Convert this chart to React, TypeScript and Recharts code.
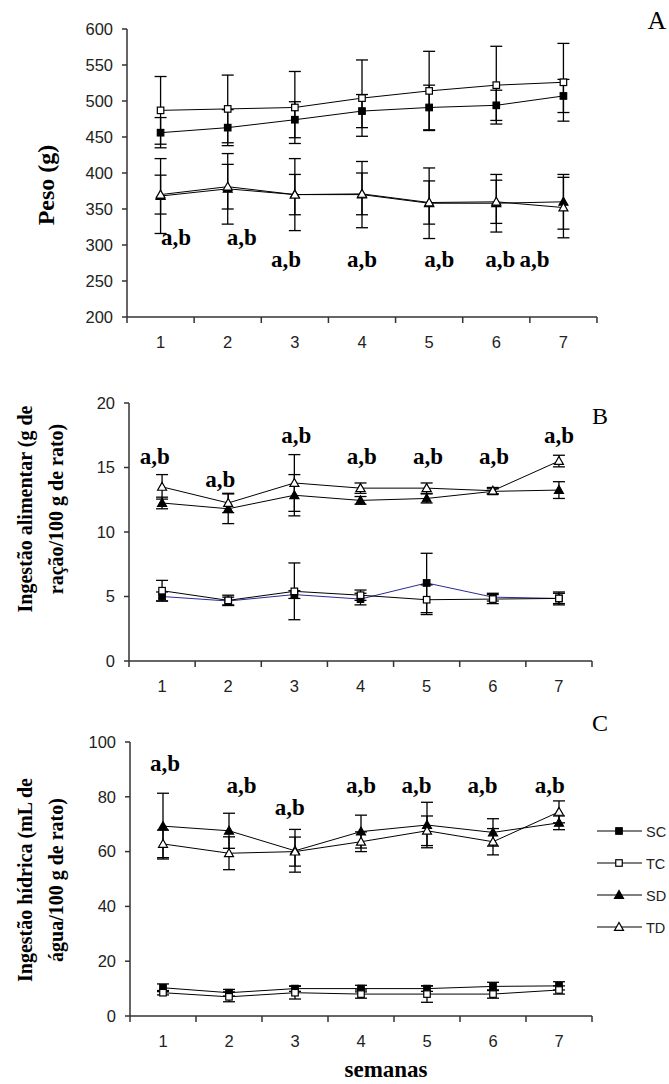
import React from 'react';
import { LineChart, Line, XAxis, YAxis, ErrorBar, ReferenceDot } from 'recharts';

// ---------- shared ----------
const weeks = [1, 2, 3, 4, 5, 6, 7];
const seriesNames = ['SC', 'TC', 'SD', 'TD'];
const annotationText = 'a,b';

// ---------- Panel A : Peso (g) ----------
const pesoSC = [456, 463, 474, 486, 491, 494, 507];
const pesoSCErr = [21, 25, 25, 23, 31, 21, 23];
const pesoTC = [487, 489, 491, 504, 514, 522, 526];
const pesoTCErr = [47, 47, 50, 53, 55, 54, 54];
const pesoSD = [368, 378, 370, 370, 358, 358, 360];
const pesoSDErr = [52, 49, 50, 46, 49, 40, 38];
const pesoTD = [370, 381, 370, 371, 359, 360, 352];
const pesoTDErr = [27, 31, 28, 29, 30, 30, 42];
const pesoTicks = [200, 250, 300, 350, 400, 450, 500, 550, 600];
const annAx = [1.23, 2.21, 2.87, 4.0, 5.15, 6.06, 6.57];
const annAy = [311, 311, 280, 280, 280, 280, 280];

// ---------- Panel B : Ingestão alimentar ----------
const aliSC = [5.0, 4.65, 5.15, 4.8, 6.05, 4.95, 4.85];
const aliSCErr = [0.35, 0.3, 0.3, 0.45, 2.3, 0.3, 0.4];
const aliTC = [5.45, 4.7, 5.4, 5.1, 4.75, 4.8, 4.85];
const aliTCErr = [0.8, 0.4, 2.2, 0.4, 1.15, 0.35, 0.5];
const aliSD = [12.25, 11.8, 12.85, 12.45, 12.6, 13.15, 13.25];
const aliSDErr = [0.45, 1.15, 1.6, 0.3, 0.35, 0.2, 0.65];
const aliTD = [13.5, 12.25, 13.8, 13.4, 13.4, 13.2, 15.5];
const aliTDErr = [0.95, 0.75, 2.2, 0.4, 0.4, 0.25, 0.45];
const aliTicks = [0, 5, 10, 15, 20];
const annBx = [0.89, 1.88, 3.03, 4.02, 5.02, 6.02, 7.0];
const annBy = [15.9, 14.15, 17.55, 15.9, 15.9, 15.9, 17.55];

// ---------- Panel C : Ingestão hídrica ----------
const hidSC = [10.3, 8.5, 10, 10, 10, 10.8, 11];
const hidSCErr = [1.4, 1.2, 1.0, 1.2, 1.0, 1.5, 1.5];
const hidTC = [8.5, 7.0, 8.5, 8, 8, 8, 9.5];
const hidTCErr = [0.8, 1.8, 2.3, 1.5, 3, 1.5, 1.5];
const hidSD = [69.3, 67.6, 60.3, 67.3, 69.7, 67, 70.5];
const hidSDErr = [12, 6.4, 7.8, 6, 8.3, 5, 2.5];
const hidTD = [62.8, 59.4, 60, 63.6, 67.6, 63.6, 74.5];
const hidTDErr = [5, 6, 5.3, 3.6, 5.4, 4.8, 4];
const hidTicks = [0, 20, 40, 60, 80, 100];
const annCx = [1.03, 2.19, 2.92, 4.0, 4.84, 5.84, 6.86];
const annCy = [92.3, 84.3, 76.3, 84.3, 84.3, 84.3, 84.3];

// ---------- helpers ----------
const xTicks = [...weeks.map((w) => w - 0.5), weeks[weeks.length - 1] + 0.5, ...weeks].sort((a, b) => a - b);

function buildRows(sc: number[], scE: number[], tc: number[], tcE: number[], sd: number[], sdE: number[], td: number[], tdE: number[]) {
  return weeks.map((w, i) => ({
    week: w,
    SC: sc[i], SCe: scE[i],
    TC: tc[i], TCe: tcE[i],
    SD: sd[i], SDe: sdE[i],
    TD: td[i], TDe: tdE[i],
  }));
}

const SANS = 'Liberation Sans, Arial, sans-serif';
const SERIF = 'Liberation Serif, Times New Roman, serif';
const AXIS = '#333';
const TICK_FONT = 16.5;

type Kind = 'SC' | 'TC' | 'SD' | 'TD';

function Marker({ cx, cy, kind }: { cx: number; cy: number; kind: Kind }) {
  if (cx == null || cy == null) return null;
  if (kind === 'SC' || kind === 'TC') {
    const s = 6.5;
    return <rect x={cx - s / 2} y={cy - s / 2} width={s} height={s} fill={kind === 'SC' ? '#000' : '#fff'} stroke="#000" strokeWidth={1.2} />;
  }
  const h = 4.5;
  const pts = `${cx},${cy - h} ${cx - h},${cy + h * 0.75} ${cx + h},${cy + h * 0.75}`;
  return <polygon points={pts} fill={kind === 'SD' ? '#000' : '#fff'} stroke="#000" strokeWidth={1.2} />;
}

const makeDot = (kind: Kind) => (p: any) => <Marker key={`${kind}-${p.index}`} cx={p.cx} cy={p.cy} kind={kind} />;

function WeekTick(props: any) {
  const { x, y, payload } = props;
  const v = payload.value;
  if (Number.isInteger(v)) {
    return (
      <text x={x} y={y + 31} textAnchor="middle" fill="#222" fontSize={TICK_FONT} fontFamily={SANS}>
        {v}
      </text>
    );
  }
  return <line x1={x} x2={x} y1={y} y2={y + 6} stroke={AXIS} strokeWidth={1.5} />;
}

const abShape = (p: any) => (
  <text x={p.cx} y={p.cy} dy="0.35em" textAnchor="middle" fill="#000" fontSize={23} fontWeight="bold" fontFamily={SERIF}>
    {annotationText}
  </text>
);

function Panel({
  top, height, marginTop, marginBottom, right, yWidth, domain, ticks, rows, annX, annY, scColor,
}: any) {
  const lineColors: Record<string, string> = { SC: scColor, TC: '#000', SD: '#000', TD: '#000' };
  return (
    <div style={{ position: 'absolute', left: 0, top }}>
      <LineChart width={669} height={height} data={rows} margin={{ top: marginTop, right, bottom: marginBottom, left: 0 }}>
        <XAxis
          type="number"
          dataKey="week"
          domain={[0.5, 7.5]}
          ticks={xTicks}
          interval={0}
          tickLine={false}
          tickSize={0}
          tickMargin={0}
          axisLine={{ stroke: AXIS, strokeWidth: 1.5 }}
          tick={<WeekTick />}
          height={40}
        />
        <YAxis
          type="number"
          domain={domain}
          ticks={ticks}
          interval={0}
          allowDataOverflow
          width={yWidth}
          tickSize={5}
          tickMargin={9}
          axisLine={{ stroke: AXIS, strokeWidth: 1.5 }}
          tickLine={{ stroke: AXIS, strokeWidth: 1.5 }}
          tick={{ fill: '#222', fontSize: TICK_FONT, fontFamily: SANS }}
        />
        {seriesNames.map((s) => (
          <Line
            key={s}
            type="linear"
            dataKey={s}
            stroke={lineColors[s]}
            strokeWidth={1}
            dot={makeDot(s as Kind)}
            activeDot={false}
            isAnimationActive={false}
          >
            <ErrorBar dataKey={`${s}e`} width={6} strokeWidth={1.3} stroke="#000" direction="y" />
          </Line>
        ))}
        {annX.map((ax: number, i: number) => (
          <ReferenceDot key={`ab-${i}`} x={ax} y={annY[i]} r={0} ifOverflow="visible" shape={abShape} />
        ))}
      </LineChart>
    </div>
  );
}

function Overlay() {
  const legendY = [831, 863, 895, 927];
  return (
    <svg width={669} height={1084} style={{ position: 'absolute', left: 0, top: 0, pointerEvents: 'none' }}>
      {/* panel letters */}
      <text x={657} y={29} textAnchor="middle" fontSize={26} fontFamily={SERIF} fill="#000">A</text>
      <text x={600} y={424} textAnchor="middle" fontSize={24} fontFamily={SERIF} fill="#000">B</text>
      <text x={600} y={731} textAnchor="middle" fontSize={24} fontFamily={SERIF} fill="#000">C</text>

      {/* y-axis titles */}
      <text transform="translate(54,185) rotate(-90)" textAnchor="middle" fontSize={24} fontWeight="bold" fontFamily={SERIF} fill="#000">
        Peso (g)
      </text>
      <g transform="translate(32,509) rotate(-90)" fontSize={20} fontWeight="bold" fontFamily={SERIF} fill="#000">
        <text x={0} y={0} textAnchor="middle">Ingestão alimentar (g de</text>
        <text x={0} y={31} textAnchor="middle">ração/100 g de rato)</text>
      </g>
      <g transform="translate(32,880) rotate(-90)" fontSize={20} fontWeight="bold" fontFamily={SERIF} fill="#000">
        <text x={0} y={0} textAnchor="middle">Ingestão hídrica (mL de</text>
        <text x={0} y={31} textAnchor="middle">água/100 g de rato)</text>
      </g>

      {/* x-axis title */}
      <text x={386} y={1077} textAnchor="middle" fontSize={23} fontWeight="bold" fontFamily={SERIF} fill="#000">
        semanas
      </text>

      {/* legend */}
      {seriesNames.map((s, i) => (
        <g key={s}>
          <line x1={597} x2={642} y1={legendY[i]} y2={legendY[i]} stroke="#000" strokeWidth={1.2} />
          <Marker cx={619} cy={legendY[i]} kind={s as Kind} />
          <text x={646} y={legendY[i] + 5.5} fontSize={14.5} fontFamily={SANS} fill="#222">{s}</text>
        </g>
      ))}
    </svg>
  );
}

export default function App() {
  const rowsA = buildRows(pesoSC, pesoSCErr, pesoTC, pesoTCErr, pesoSD, pesoSDErr, pesoTD, pesoTDErr);
  const rowsB = buildRows(aliSC, aliSCErr, aliTC, aliTCErr, aliSD, aliSDErr, aliTD, aliTDErr);
  const rowsC = buildRows(hidSC, hidSCErr, hidTC, hidTCErr, hidSD, hidSDErr, hidTD, hidTDErr);
  return (
    <div style={{ position: 'absolute', left: 0, top: 0, width: 669, height: 1084, overflow: 'hidden', background: '#fff' }}>
      <Panel top={0} height={360} marginTop={29} marginBottom={3} right={72} yWidth={127}
        domain={[200, 600]} ticks={pesoTicks} rows={rowsA} annX={annAx} annY={annAy} scColor="#000" />
      <Panel top={380} height={320} marginTop={23} marginBottom={-1} right={77} yWidth={129}
        domain={[0, 20]} ticks={aliTicks} rows={rowsB} annX={annBx} annY={annBy} scColor="#2a2a96" />
      <Panel top={720} height={340} marginTop={22} marginBottom={4} right={77} yWidth={130}
        domain={[0, 100]} ticks={hidTicks} rows={rowsC} annX={annCx} annY={annCy} scColor="#000" />
      <Overlay />
    </div>
  );
}
